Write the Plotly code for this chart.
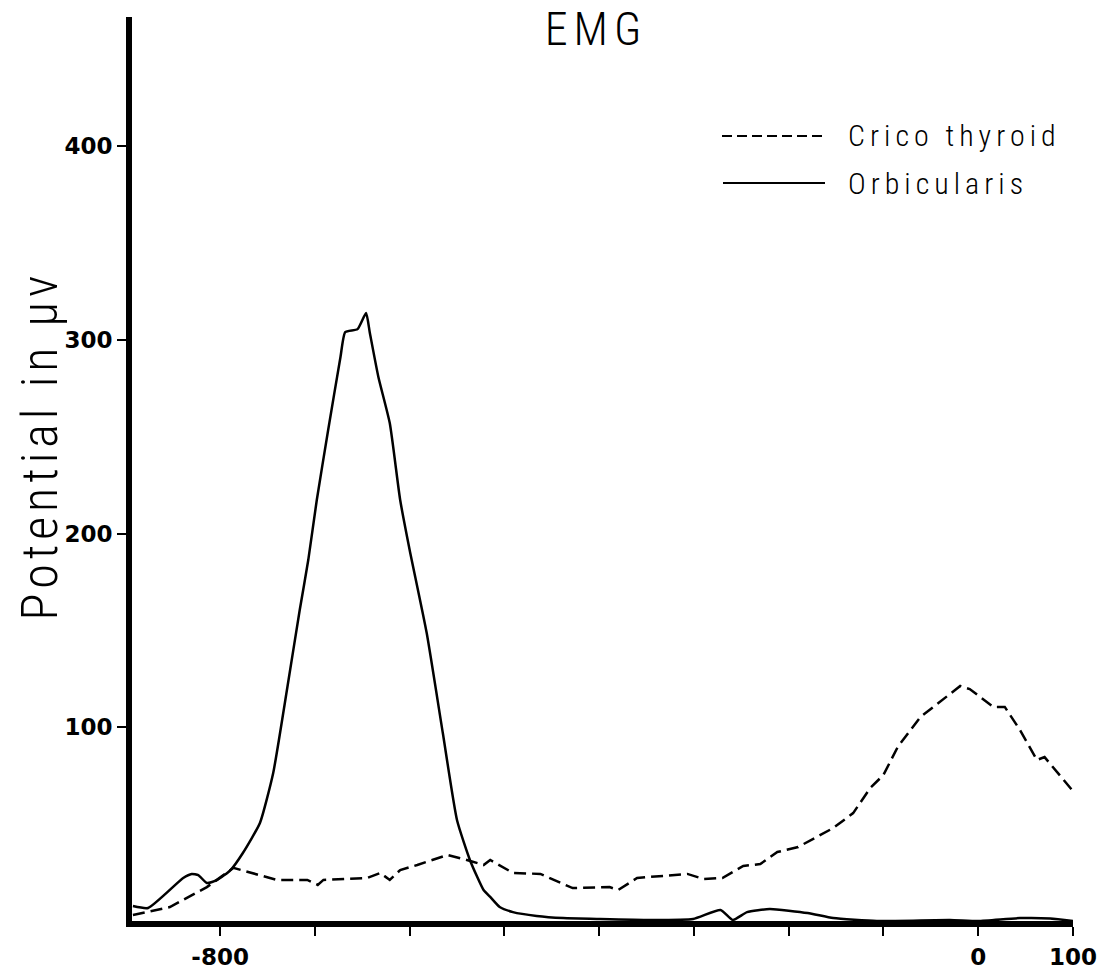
import plotly.graph_objects as go

# ---- data ----
orb_x = [-892, -876, -839, -830, -823, -814, -803, -789, -776, -758, -744, -729, -716, -707,
         -698, -686, -673, -668, -655, -646, -642, -633, -621, -610, -600, -582, -565, -550,
         -536, -522, -515, -505, -491, -466, -438, -399, -346, -301, -272, -259, -244, -220,
         -180, -153, -107, -30, 0, 44, 76, 100]
orb_y = [7.7, 6.7, 22.2, 24.3, 23.7, 19.6, 21.2, 26.3, 35.1, 50.6, 76.4, 120.8, 160.5, 186.3,
         217.3, 253.4, 291.1, 304.0, 305.5, 313.8, 303.5, 280.8, 257.0, 217.3, 191.5, 148.6, 97.0, 52.0,
         31.0, 16.0, 12.4, 7.2, 4.6, 2.6, 1.5, 1.0, 0.5, 1.0, 5.7, 0.5, 4.6, 6.2,
         4.1, 1.5, 0.0, 0.5, 0.0, 1.5, 1.3, 0.0]

cri_x = [-892, -853, -814, -786, -740, -729, -708, -697, -691, -645, -631, -621, -610, -592,
         -560, -536, -522, -515, -491, -462, -428, -389, -380, -360, -307, -290, -270, -248,
         -230, -212, -190, -153, -132, -114, -100, -85, -61, -19, -9, 16, 28, 44, 62, 70, 99]
cri_y = [3.1, 7.2, 17.5, 27.4, 21.2, 21.2, 21.2, 18.6, 21.2, 22.2, 24.8, 21.2, 26.3, 28.9,
         34.1, 31.0, 28.9, 31.5, 24.8, 24.3, 17.0, 17.5, 16.0, 22.2, 24.3, 21.7, 22.2, 28.4,
         29.4, 35.6, 38.2, 48.0, 55.7, 68.6, 75.4, 89.8, 105.3, 121.3, 119.7, 110.5, 110.5, 98.6, 83.1, 84.6, 67.6]

x_tickvals = [-800, -700, -600, -500, -400, -300, -200, -100, 0, 100]
x_ticktext = ["-800", "", "", "", "", "", "", "", "0", "100"]
y_tickvals = [100, 200, 300, 400]
y_ticktext = ["100", "200", "300", "400"]

series_names = ["Crico thyroid", "Orbicularis"]
y_title = "Potential in μv"
chart_title = "EMG"

# ---- figure ----
W, H = 1105, 972
L, R, T, B = 132, 32, 17, 51
pw, ph = W - L - R, H - T - B

LIGHT = "Roboto Condensed, DejaVu Sans Condensed, Liberation Sans Narrow, Roboto, sans-serif"
BOLD = "DejaVu Sans, sans-serif"

fig = go.Figure()
fig.add_trace(go.Scatter(x=cri_x, y=cri_y, mode="lines", name=series_names[0],
                         line=dict(color="black", width=2.5, dash="12px,6px"),
                         showlegend=False, hoverinfo="skip"))
fig.add_trace(go.Scatter(x=orb_x, y=orb_y, mode="lines", name=series_names[1],
                         line=dict(color="black", width=2.5, shape="spline", smoothing=0.5),
                         showlegend=False, hoverinfo="skip"))

def px_x(p):
    return (p - L) / pw

def px_y(p):
    return (H - B - p) / ph

# hand-drawn style legend
fig.add_shape(type="line", xref="paper", yref="paper", x0=px_x(722), x1=px_x(825),
              y0=px_y(136), y1=px_y(136), line=dict(color="black", width=2, dash="10px,5px"))
fig.add_shape(type="line", xref="paper", yref="paper", x0=px_x(723), x1=px_x(825),
              y0=px_y(183), y1=px_y(183), line=dict(color="black", width=2))
for name, yy in zip(series_names, [135, 183]):
    fig.add_annotation(text=name, xref="paper", yref="paper", x=px_x(846), y=px_y(yy),
                       xanchor="left", yanchor="middle", align="left", showarrow=False,
                       font=dict(family=LIGHT, size=30, color="black", weight=300))

# y-axis title
fig.add_annotation(text=y_title, xref="paper", yref="paper", x=px_x(40), y=px_y(446),
                   xanchor="center", yanchor="middle", textangle=-90, showarrow=False,
                   font=dict(family=LIGHT, size=50, color="black", weight=300))

fig.update_layout(
    width=W, height=H, margin=dict(l=L, r=R, t=T, b=B),
    paper_bgcolor="white", plot_bgcolor="white",
    title=dict(text=chart_title, xref="paper", x=px_x(596), yref="container", y=1 - 29 / H,
               xanchor="center", yanchor="middle",
               font=dict(family=LIGHT, size=46, color="black", weight=300)),
    xaxis=dict(range=[-893, 100], showline=True, linewidth=6, linecolor="black",
               ticks="outside", ticklen=9, tickwidth=2, tickcolor="black",
               tickmode="array", tickvals=x_tickvals, ticktext=x_ticktext,
               ticklabelstandoff=1, automargin=False,
               tickfont=dict(family=BOLD, size=23, color="black", weight="bold"),
               showgrid=False, zeroline=False),
    yaxis=dict(range=[0, 466.6], showline=True, linewidth=6, linecolor="black",
               ticks="outside", ticklen=9, tickwidth=1.5, tickcolor="black",
               tickmode="array", tickvals=y_tickvals, ticktext=y_ticktext,
               automargin=False,
               tickfont=dict(family=BOLD, size=23, color="black", weight="bold"),
               showgrid=False, zeroline=False),
)

post = """
function ls(){
  var gd = document.getElementById('{plot_id}');
  if(!gd) return;
  gd.querySelectorAll('.gtitle').forEach(function(e){e.style.letterSpacing='6px';});
  gd.querySelectorAll('g.annotation').forEach(function(g){
    g.querySelectorAll('text').forEach(function(e){e.style.letterSpacing='5px';});
  });
}
ls(); setTimeout(ls, 30); setTimeout(ls, 300);
"""

fig.write_html("out.html", post_script=post)
